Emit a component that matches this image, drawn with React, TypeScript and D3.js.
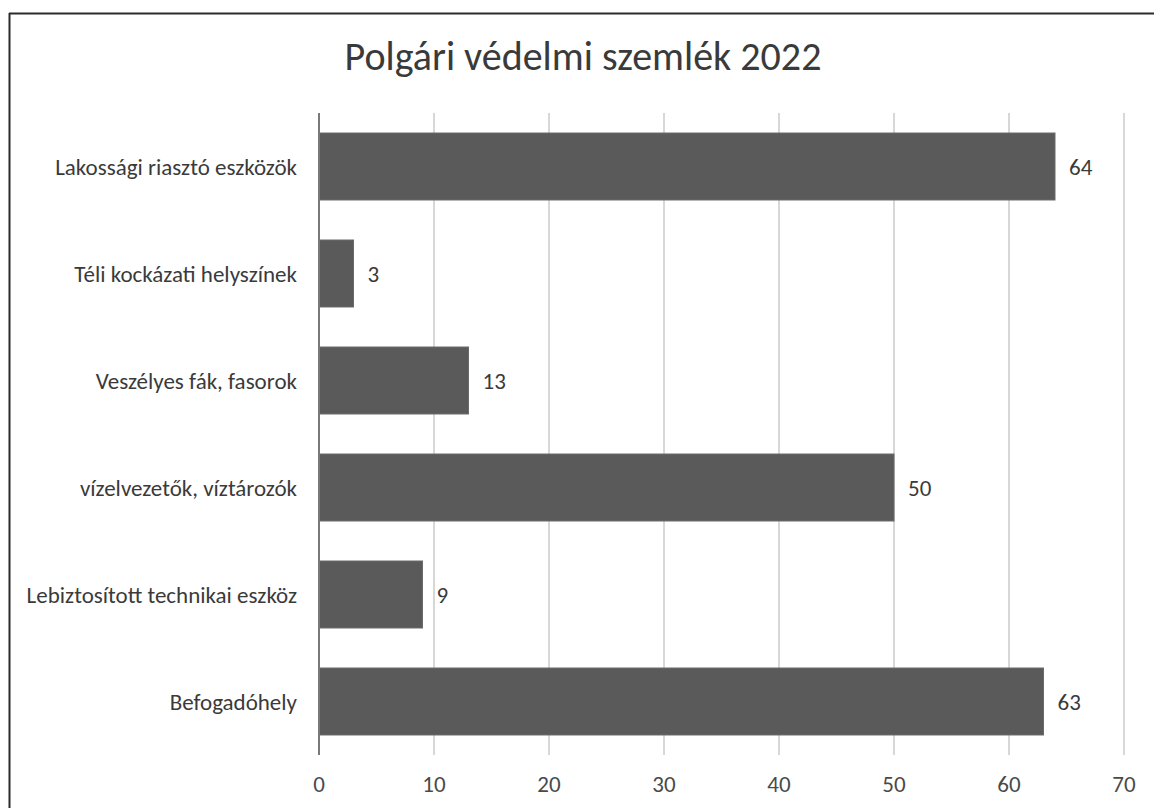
import React from "react";
import * as d3 from "d3";

const categories = [
  "Lakossági riasztó eszközök",
  "Téli kockázati helyszínek",
  "Veszélyes fák, fasorok",
  "vízelvezetők, víztározók",
  "Lebiztosított technikai eszköz",
  "Befogadóhely",
];
const values = [64, 3, 13, 50, 9, 63];
const ticks = [0, 10, 20, 30, 40, 50, 60, 70];
const title = "Polgári védelmi szemlék 2022";

const W = 1154;
const H = 808;
const FONT = "Carlito, Lato, 'Open Sans', sans-serif";

export default function App() {
  const x = d3.scaleLinear().domain([0, 70]).range([319, 1124]);
  const y = d3
    .scaleBand<string>()
    .domain(categories)
    .range([113, 755])
    .paddingInner(0.374)
    .paddingOuter(0.187);
  const bw = y.bandwidth();

  return (
    <svg
      width={W}
      height={H}
      style={{ position: "absolute", left: 0, top: 0, background: "#fff" }}
      fontFamily={FONT}
    >
      <rect x={0} y={0} width={W} height={H} fill="#ffffff" />
      {/* outer frame */}
      <line x1={9} y1={13.5} x2={W} y2={13.5} stroke="#2b2b2b" strokeWidth={2} />
      <line x1={9.5} y1={13} x2={9.5} y2={H} stroke="#2b2b2b" strokeWidth={2} />

      {/* title */}
      <text x={583} y={70} textAnchor="middle" fontSize={40} fill="#3a3a3a">
        {title}
      </text>

      {/* gridlines */}
      {ticks.slice(1).map((t) => (
        <line
          key={"g" + t}
          x1={x(t)}
          x2={x(t)}
          y1={113}
          y2={755}
          stroke="#b0b0b0"
          strokeWidth={1}
        />
      ))}

      {/* bars */}
      {categories.map((c, i) => (
        <rect
          key={"b" + c}
          x={x(0)}
          y={y(c)}
          width={x(values[i]) - x(0)}
          height={bw}
          fill="#5a5a5a"
          stroke="#6a6a6a"
          strokeWidth={1}
        />
      ))}

      {/* vertical axis line */}
      <line x1={x(0)} x2={x(0)} y1={113} y2={755} stroke="#7a7a7a" strokeWidth={2} />

      {/* category labels */}
      {categories.map((c) => (
        <text
          key={"c" + c}
          x={297}
          y={(y(c) as number) + bw / 2}
          textAnchor="end"
          dominantBaseline="central"
          fontSize={23}
          fill="#3a3a3a"
        >
          {c}
        </text>
      ))}

      {/* value labels */}
      {categories.map((c, i) => (
        <text
          key={"v" + c}
          x={x(values[i]) + 14}
          y={(y(c) as number) + bw / 2}
          dominantBaseline="central"
          fontSize={23}
          fill="#3a3a3a"
        >
          {values[i]}
        </text>
      ))}

      {/* tick labels */}
      {ticks.map((t) => (
        <text
          key={"t" + t}
          x={x(t)}
          y={784}
          textAnchor="middle"
          dominantBaseline="central"
          fontSize={23}
          fill="#4a4a4a"
        >
          {t}
        </text>
      ))}
    </svg>
  );
}
